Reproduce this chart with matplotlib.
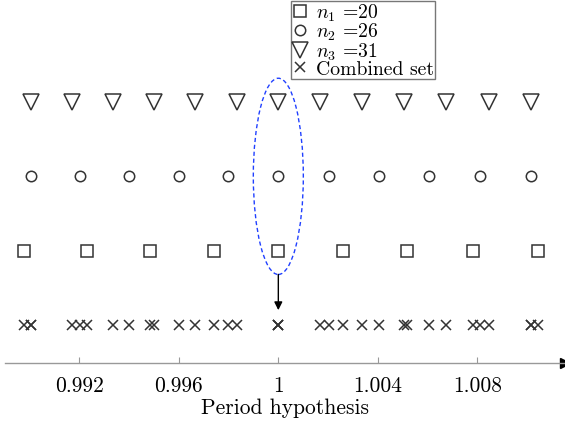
import matplotlib.pyplot as plt
from matplotlib.patches import Ellipse

plt.rcParams['font.family'] = 'serif'
plt.rcParams['font.serif'] = ['cmr10', 'DejaVu Serif']
plt.rcParams['mathtext.fontset'] = 'cm'
plt.rcParams['axes.formatter.use_mathtext'] = True

# period hypotheses
set_n1 = [0.98978, 0.99231, 0.99486, 0.99743, 1.0, 1.00260, 1.00519, 1.00781, 1.01045]
set_n2 = [0.99006, 0.99202, 0.99401, 0.99599, 0.99799, 1.0, 1.00202, 1.00403,
          1.00607, 1.00809, 1.01015]
set_n3 = [0.99006, 0.99170, 0.99334, 0.99501, 0.99667, 0.99832, 1.0, 1.00169,
          1.00337, 1.00506, 1.00675, 1.00845, 1.01015]
combined = set_n1 + set_n2 + set_n3

labels = [r'$n_1$ =20', r'$n_2$ =26', r'$n_3$ =31', 'Combined set']
tick_vals = [0.992, 0.996, 1.0, 1.004, 1.008]
tick_labels = ['0.992', '0.996', '1', '1.004', '1.008']

fig = plt.figure(figsize=(5.65, 4.27), dpi=100)
ax = fig.add_axes([0.009, 0.1475, 0.991, 0.8525])

mc = '#333333'
h1, = ax.plot(set_n1, [1]*len(set_n1), 's', ms=8, mfc='none', mec=mc, mew=1.1, ls='none')
h2, = ax.plot(set_n2, [2]*len(set_n2), 'o', ms=7.5, mfc='none', mec=mc, mew=1.1, ls='none')
h3, = ax.plot(set_n3, [3]*len(set_n3), 'v', ms=12, mfc='none', mec=mc, mew=1.1, ls='none')
h4, = ax.plot(combined, [0]*len(combined), 'x', ms=7.5, mec=mc, mew=1.1, ls='none')

ell = Ellipse((1.0, 2.0), 0.00201, 2.64, fill=False, ec='#2040ff', lw=1, ls=(0, (3, 2)))
ax.add_patch(ell)
ax.annotate('', xy=(1.0, 0.2), xytext=(1.0, 0.68),
            arrowprops=dict(arrowstyle='-|>', color='k', lw=1, mutation_scale=12,
                            shrinkA=0, shrinkB=0))

ax.set_xlim(0.98902, 1.01152)
ax.set_ylim(-0.511, 4.386)

for s in ['top', 'right', 'left']:
    ax.spines[s].set_visible(False)
ax.spines['bottom'].set_color('#999999')
ax.spines['bottom'].set_linewidth(1.0)
ax.set_yticks([])
ax.set_xticks(tick_vals)
ax.set_xticklabels(tick_labels, fontsize=15.5)
ax.tick_params(axis='x', direction='in', length=4, color='#999999', pad=9)
ax.plot([ax.get_xlim()[1]], [-0.511], '>', color='k', ms=7, clip_on=False)
ax.set_xlabel('Period hypothesis', fontsize=15.5, labelpad=2)

leg = ax.legend([h1, h2, h3, h4], labels, loc='upper left',
                bbox_to_anchor=(291/565, 0.996), bbox_transform=fig.transFigure,
                fontsize=14.2, frameon=True, fancybox=False, edgecolor='#555555',
                handlelength=0.8, handletextpad=0.4, labelspacing=-0.1,
                borderpad=0.05, borderaxespad=0.0, markerscale=1.0)
leg.get_frame().set_linewidth(1.0)

fig.savefig('out.png', dpi=100)
